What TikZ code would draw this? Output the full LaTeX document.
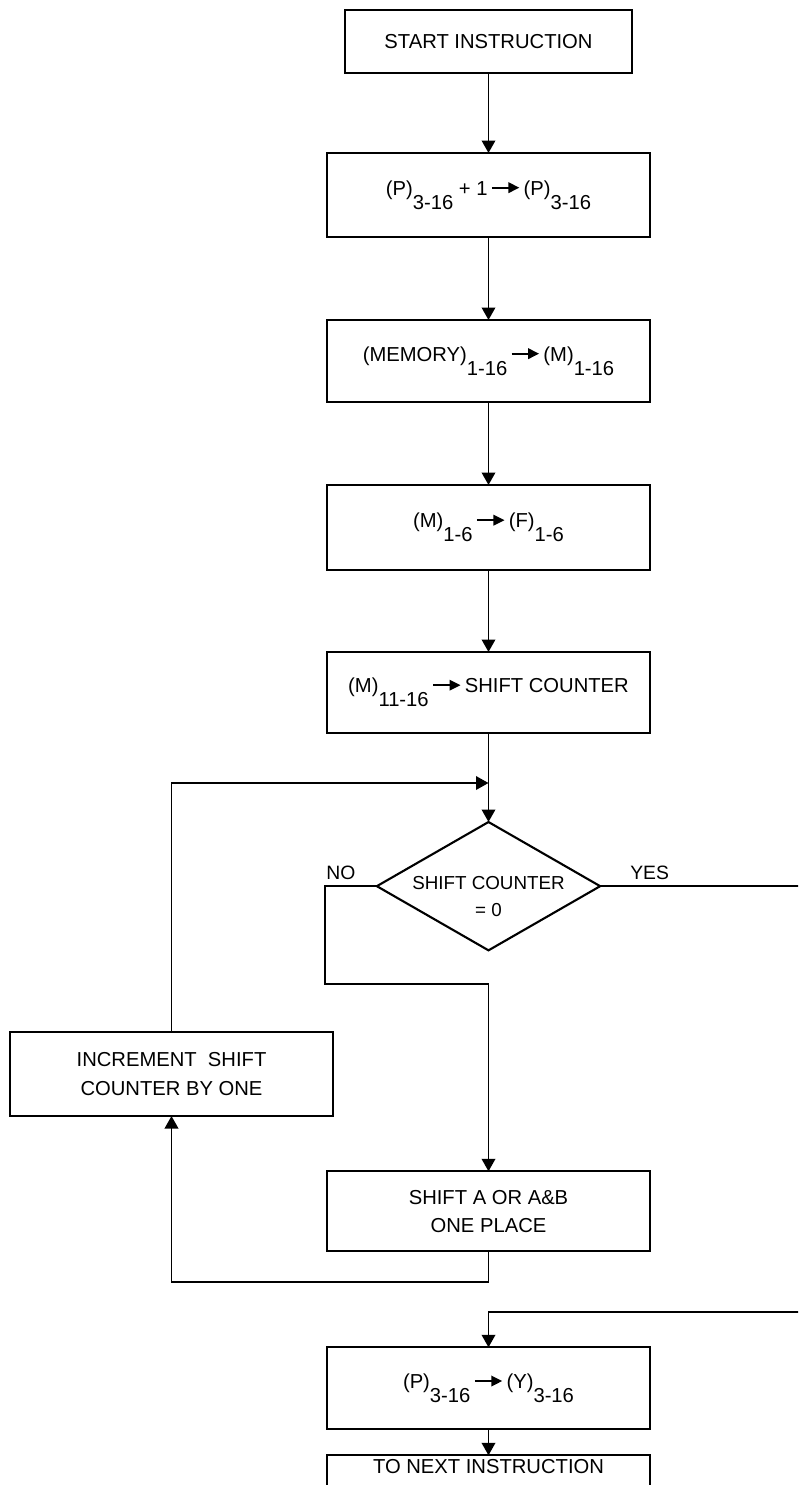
\documentclass[tikz,border=0pt]{standalone}
\usepackage{fontspec}
\setmainfont{Liberation Sans}
\usepackage{tikz}
\usetikzlibrary{positioning,arrows.meta,shapes.geometric}
\newcommand{\lowsub}[1]{\raisebox{-0.7em}{#1}}
\newcommand{\arrto}{\,\tikz[baseline=-0.7ex]\draw[line width=1.1pt,-{Triangle[length=2.2mm,width=2.1mm]}] (0,0) -- (0.55,0);\,}
\tikzset{
  blk/.style  ={draw, rectangle, line width=1.2pt, align=center, outer sep=0pt, minimum width=6.46cm, minimum height=1.66cm, font={\fontsize{11.5}{16}\selectfont}},
  nxt/.style  ={blk, minimum height=0pt, inner ysep=2.5pt, text depth=1cm},
  cond/.style ={draw, diamond, line width=1.2pt, aspect=1.74, inner sep=0pt, outer sep=0pt, minimum width=4.38cm, minimum height=2.52cm, align=center, font={\fontsize{10.7}{14}\selectfont}},
  lbl/.style  ={font={\fontsize{11}{13}\selectfont}},
  arr/.style  ={-{Triangle[length=2.5mm, width=2.7mm]}, line width=1.1pt},
}

\begin{document}
\begin{tikzpicture}
  \clip (0,0) rectangle (15.96,-29.7);

  \node[blk, minimum width=5.74cm, minimum height=1.26cm] (start) at (9.77,-0.83) {START INSTRUCTION};
  \node[blk, minimum height=1.68cm, below=1.6cm of start] (incp) {(P)\lowsub{3-16} + 1\arrto(P)\lowsub{3-16}};
  \node[blk, minimum height=1.64cm, below=1.66cm of incp] (fetch) {(MEMORY)\lowsub{1-16}\arrto(M)\lowsub{1-16}};
  \node[blk, minimum height=1.70cm, below=1.66cm of fetch] (opc) {(M)\lowsub{1-6}\arrto(F)\lowsub{1-6}};
  \node[blk, minimum height=1.62cm, below=1.64cm of opc] (count) {(M)\lowsub{11-16}\arrto SHIFT COUNTER};
  \node[cond, below=1.78cm of count] (test) {\raisebox{-6pt}[\height][\depth]{\shortstack{SHIFT COUNTER\\[5pt]= 0}}};
  \node[blk, minimum height=1.60cm, below=4.42cm of test] (shft) {SHIFT A OR A\&B\\ONE PLACE};
  \node[blk, minimum height=1.68cm] (incr) at (3.43,-21.48) {INCREMENT~ SHIFT\\COUNTER BY ONE};
  \node[blk, minimum height=1.64cm, below=1.92cm of shft] (savep) {(P)\lowsub{3-16}\arrto(Y)\lowsub{3-16}};
  \node[nxt, below=0.52cm of savep] (nxt) {TO NEXT INSTRUCTION};

  \coordinate (join) at ([yshift=-1.0cm]count.south);

  \draw[arr] (start) -- (incp);
  \draw[arr] (incp) -- (fetch);
  \draw[arr] (fetch) -- (opc);
  \draw[arr] (opc) -- (count);
  \draw[arr] (count) -- (test);
  \draw[arr] (test.west) -- node[lbl, above, pos=0.69] {NO} ++(-1.04,0) |- ([yshift=-0.68cm]test.south) -- (shft.north);
  \draw[arr] (shft.south) -- ++(0,-0.62) -| (incr.south);
  \draw[arr] (incr.north) |- (join);
  \draw[arr] (test.east) -- node[lbl, above, pos=0.22] {YES} ++(4.5,0) |- ([yshift=0.7cm]savep.north) -- (savep.north);
  \draw[arr] (savep) -- (nxt);
\end{tikzpicture}
\end{document}
